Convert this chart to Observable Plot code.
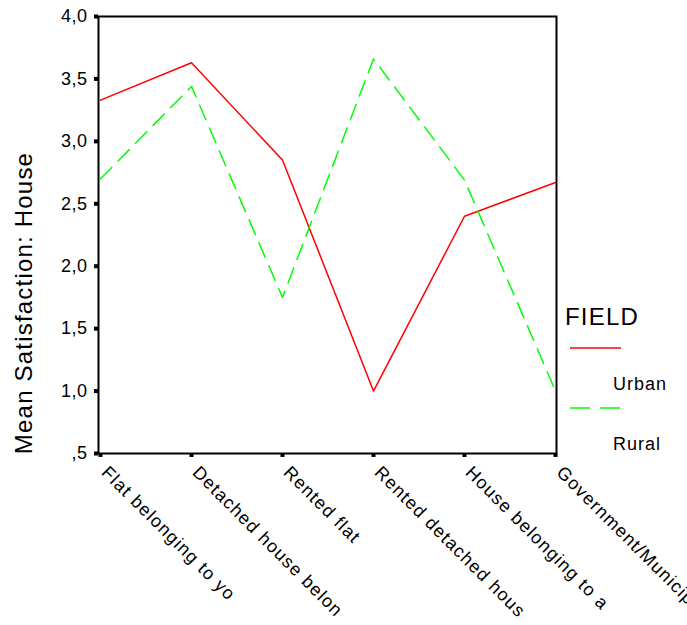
<!DOCTYPE html>
<html>
<head>
<meta charset="utf-8">
<script src="https://cdn.jsdelivr.net/npm/d3@7"></script>
<script src="https://cdn.jsdelivr.net/npm/@observablehq/plot@0.6"></script>
<style>
  html, body { margin: 0; padding: 0; background: #fff; overflow: hidden; }
  #wrap { position: relative; width: 687px; height: 625px; font-family: "Liberation Sans", Arial, sans-serif; }
  #legend { position: absolute; left: 0; top: 0; width: 687px; height: 625px; pointer-events: none; }
  #legend .t { position: absolute; white-space: nowrap; color: #000; }
  g[aria-label="x-axis tick label"] text { letter-spacing: 1.2px; }
  g[aria-label="y-axis tick label"] text { letter-spacing: 0.5px; }
  g[aria-label="text"] text { letter-spacing: 1.2px; }
</style>
</head>
<body>
<div id="wrap">
  <div id="chart"></div>
  <div id="legend"></div>
</div>
<script>
const categories = ["Flat belonging to yo", "Detached house belon", "Rented flat", "Rented detached hous", "House belonging to a", "Government/Municipal"];
const urban = [3.33, 3.63, 2.85, 1.00, 2.40, 2.67];
const rural = [2.70, 3.44, 1.75, 3.66, 2.69, 1.00];
const series = ["Urban", "Rural"];
const colors = ["#ff0000", "#00ff00"];
const yTicks = [0.5, 1.0, 1.5, 2.0, 2.5, 3.0, 3.5, 4.0];
const yLabel = "Mean Satisfaction: House";
const legendTitle = "FIELD";

const urbanData = categories.map((c, i) => ({cat: c, value: urban[i]}));
const ruralData = categories.map((c, i) => ({cat: c, value: rural[i]}));
const fmt = d => d === 0.5 ? ",5" : d.toFixed(1).replace(".", ",");

const chart = Plot.plot({
  width: 687,
  height: 625,
  marginLeft: 98,
  marginRight: 131,
  marginTop: 16,
  marginBottom: 172,
  style: {fontFamily: "'Liberation Sans', Arial, sans-serif", background: "#fff", color: "#000", overflow: "visible"},
  x: {type: "point", domain: categories, padding: 0},
  y: {domain: [0.5, 4.0]},
  marks: [
    Plot.frame({stroke: "#000", strokeWidth: 2}),
    Plot.line(urbanData, {x: "cat", y: "value", stroke: colors[0], strokeWidth: 1.5}),
    Plot.line(ruralData, {x: "cat", y: "value", stroke: colors[1], strokeWidth: 1.5, strokeDasharray: "16,9"}),
    Plot.axisY({ticks: yTicks, tickFormat: fmt, tickSize: 4, strokeWidth: 4, tickPadding: 7, fontSize: 18, label: null}),
    Plot.axisX({tickSize: 4, strokeWidth: 4, tickFormat: () => "", label: null}),
    Plot.axisX({tickSize: 0, tickRotate: 45, tickPadding: 16, dx: 4, fontSize: 18, label: null}),
    Plot.text([yLabel], {frameAnchor: "left", textAnchor: "middle", dx: -74, dy: 68, rotate: -90, fontSize: 24, fill: "#000"})
  ]
});
document.getElementById("chart").appendChild(chart);

// Legend
const leg = document.getElementById("legend");
function addText(txt, x, y, size, ls) {
  const d = document.createElement("div");
  d.className = "t";
  d.textContent = txt;
  d.style.left = x + "px";
  d.style.top = y + "px";
  d.style.fontSize = size + "px";
  d.style.letterSpacing = ls + "px";
  d.style.lineHeight = "1";
  leg.appendChild(d);
}
addText(legendTitle, 565, 305, 24, 1.2);
const ns = "http://www.w3.org/2000/svg";
const sw = document.createElementNS(ns, "svg");
sw.setAttribute("width", 687); sw.setAttribute("height", 625);
sw.style.position = "absolute"; sw.style.left = "0"; sw.style.top = "0";
const swatchY = [348, 408];
series.forEach((s, i) => {
  const l = document.createElementNS(ns, "line");
  l.setAttribute("x1", 570); l.setAttribute("x2", 621);
  l.setAttribute("y1", swatchY[i]); l.setAttribute("y2", swatchY[i]);
  l.setAttribute("stroke", colors[i]); l.setAttribute("stroke-width", 1.5);
  if (i === 1) l.setAttribute("stroke-dasharray", "20,10");
  sw.appendChild(l);
  addText(s, 613, swatchY[i] + 27, 18, 1);
});
leg.appendChild(sw);
</script>
</body>
</html>
